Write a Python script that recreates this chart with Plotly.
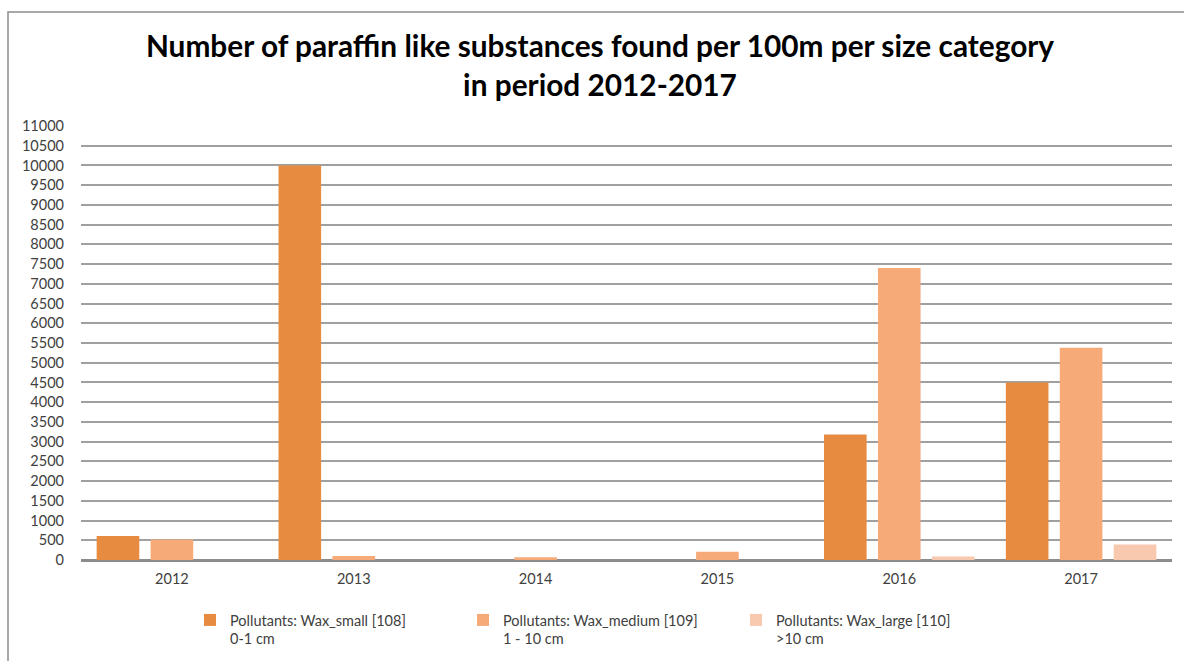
import plotly.graph_objects as go

# Survey years and paraffin-like item counts per 100 m, by size class
years = ["2012", "2013", "2014", "2015", "2016", "2017"]
wax_small = [610, 10000, 0, 0, 3180, 4500]
wax_medium = [520, 100, 70, 210, 7400, 5380]
wax_large = [0, 0, 0, 0, 90, 390]

series_names = [
    "Pollutants: Wax_small [108]<br>0-1 cm",
    "Pollutants: Wax_medium [109]<br>1 - 10 cm",
    "Pollutants: Wax_large [110]<br>>10 cm",
]
series_colors = ["#E68B40", "#F5AA78", "#F8C8AF"]

font_family = "Lato, 'Open Sans', sans-serif"

fig = go.Figure()
for name, values, color in zip(series_names, [wax_small, wax_medium, wax_large], series_colors):
    fig.add_trace(go.Bar(
        x=years,
        y=values,
        name=name,
        marker=dict(color=color, line=dict(width=0)),
    ))

fig.update_layout(
    width=1184,
    height=661,
    paper_bgcolor="white",
    plot_bgcolor="white",
    barmode="group",
    bargap=0.11,
    bargroupgap=0.21,
    margin=dict(l=81, r=12, t=126, b=101),
    font=dict(family=font_family, color="#595959", size=14),
    title=dict(
        text="Number of paraffin like substances found per 100m per size category<br>in period 2012-2017",
        x=600 / 1184,
        xanchor="center",
        y=1 - 57 / 661,
        yanchor="middle",
        font=dict(family=font_family, size=29.8, color="#000000", weight="bold"),
    ),
    xaxis=dict(
        showgrid=False,
        showline=False,
        ticks="",
        tickfont=dict(size=14.5, color="#404040"),
        ticklabelstandoff=8,
    ),
    yaxis=dict(
        range=[0, 11000],
        dtick=500,
        tick0=0,
        tickformat="d",
        showgrid=True,
        gridcolor="#A0A0A0",
        gridwidth=1.5,
        zeroline=True,
        zerolinecolor="#8C8C8C",
        zerolinewidth=2.5,
        showline=False,
        ticks="",
        tickfont=dict(size=14.5, color="#404040"),
        ticklabelstandoff=16,
    ),
    legend=dict(
        orientation="h",
        x=190 / 1184,
        xanchor="left",
        y=1 - 604 / 661,
        yanchor="top",
        xref="container",
        yref="container",
        font=dict(size=14.5, color="#404040"),
        entrywidth=228,
        entrywidthmode="pixels",
        itemsizing="constant",
        traceorder="normal",
        valign="top",
    ),
    showlegend=True,
)

# Outer chart frame (top and left edges visible)
fig.add_shape(
    type="rect",
    xref="paper", yref="paper",
    x0=(8 - 81) / 1091, x1=1.2,
    y0=-0.5, y1=(560 - 12) / 434,
    line=dict(color="#8C8C8C", width=1.5),
    fillcolor="rgba(0,0,0,0)",
    layer="below",
)

fig.write_html("out.html")
